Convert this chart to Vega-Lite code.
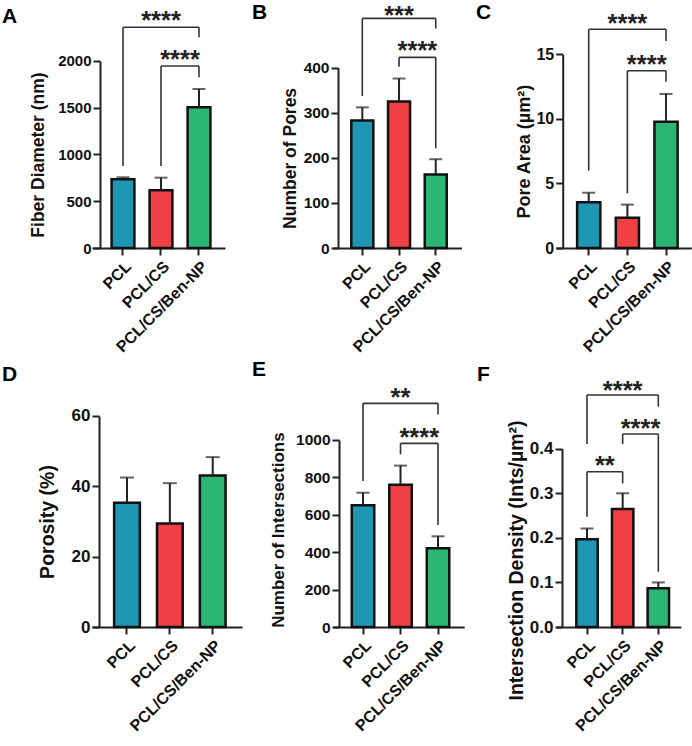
{
  "$schema": "https://vega.github.io/schema/vega-lite/v6.json",
  "padding": {"left": 2, "top": 0, "right": 0, "bottom": 0},
  "background": "white",
  "config": {
    "font": "Liberation Sans",
    "view": {"stroke": null},
    "axis": {"grid": false, "domainColor": "#222", "domainWidth": 2, "tickColor": "#222", "tickWidth": 2, "tickSize": 7, "labelColor": "#111", "labelFontWeight": "bold", "labelFont": "Liberation Sans", "titleFont": "Liberation Sans", "titleFontWeight": "bold", "titleColor": "#111", "labelPadding": 2},
    "axisX": {"labelAngle": -45, "labelFontSize": 16, "labelPadding": 3},
    "axisY": {"titleBaseline": "alphabetic", "titleAngle": -90},
    "title": {"anchor": "start", "frame": "group", "offset": 0, "fontSize": 21, "fontWeight": "bold", "baseline": "alphabetic", "color": "#000", "font": "Liberation Sans"},
    "text": {"font": "Liberation Sans", "fontSize": 25.5, "fontWeight": "bold", "baseline": "middle", "align": "center", "color": "#222", "clip": true},
    "rule": {"clip": true}
  },
  "datasets": {
    "bars": [
      {"panel": "A", "group": "PCL", "mean": 735, "upper": 756},
      {"panel": "A", "group": "PCL/CS", "mean": 617, "upper": 752},
      {"panel": "A", "group": "PCL/CS/Ben-NP", "mean": 1505, "upper": 1700},
      {"panel": "B", "group": "PCL", "mean": 283, "upper": 312},
      {"panel": "B", "group": "PCL/CS", "mean": 325, "upper": 376},
      {"panel": "B", "group": "PCL/CS/Ben-NP", "mean": 163, "upper": 197},
      {"panel": "C", "group": "PCL", "mean": 3.54, "upper": 4.28},
      {"panel": "C", "group": "PCL/CS", "mean": 2.35, "upper": 3.36},
      {"panel": "C", "group": "PCL/CS/Ben-NP", "mean": 9.78, "upper": 11.93},
      {"panel": "D", "group": "PCL", "mean": 35.3, "upper": 42.5},
      {"panel": "D", "group": "PCL/CS", "mean": 29.4, "upper": 40.9},
      {"panel": "D", "group": "PCL/CS/Ben-NP", "mean": 43.1, "upper": 48.3},
      {"panel": "E", "group": "PCL", "mean": 651, "upper": 718},
      {"panel": "E", "group": "PCL/CS", "mean": 761, "upper": 863},
      {"panel": "E", "group": "PCL/CS/Ben-NP", "mean": 421, "upper": 485},
      {"panel": "F", "group": "PCL", "mean": 0.197, "upper": 0.221},
      {"panel": "F", "group": "PCL/CS", "mean": 0.265, "upper": 0.300},
      {"panel": "F", "group": "PCL/CS/Ben-NP", "mean": 0.087, "upper": 0.100}
    ],
    "brackets": [
      {"panel": "A", "g1": "PCL", "g2": "PCL/CS/Ben-NP", "h": 2360, "l1": 877, "l2": 2253, "label": "****", "ly": 2429, "span": 2},
      {"panel": "A", "g1": "PCL/CS", "g2": "PCL/CS/Ben-NP", "h": 1947, "l1": 877, "l2": 1826, "label": "****", "ly": 2008, "span": 1},
      {"panel": "B", "g1": "PCL", "g2": "PCL/CS/Ben-NP", "h": 509.5, "l1": 337, "l2": 487, "label": "***", "ly": 514.8, "span": 2},
      {"panel": "B", "g1": "PCL/CS", "g2": "PCL/CS/Ben-NP", "h": 423, "l1": 402, "l2": 221, "label": "****", "ly": 437, "span": 1},
      {"panel": "C", "g1": "PCL", "g2": "PCL/CS/Ben-NP", "h": 16.94, "l1": 5.99, "l2": 16.03, "label": "****", "ly": 17.38, "span": 2},
      {"panel": "C", "g1": "PCL/CS", "g2": "PCL/CS/Ben-NP", "h": 13.73, "l1": 4.24, "l2": 12.88, "label": "****", "ly": 14.2, "span": 1},
      {"panel": "E", "g1": "PCL", "g2": "PCL/CS/Ben-NP", "h": 1196, "l1": 781, "l2": 1137, "label": "**", "ly": 1225, "span": 2},
      {"panel": "E", "g1": "PCL/CS", "g2": "PCL/CS/Ben-NP", "h": 982, "l1": 923, "l2": 545, "label": "****", "ly": 1011, "span": 1},
      {"panel": "F", "g1": "PCL", "g2": "PCL/CS/Ben-NP", "h": 0.5205, "l1": 0.4105, "l2": 0.4943, "label": "****", "ly": 0.5297, "span": 2},
      {"panel": "F", "g1": "PCL/CS", "g2": "PCL/CS/Ben-NP", "h": 0.433, "l1": 0.4105, "l2": 0.124, "label": "****", "ly": 0.4451, "span": 1},
      {"panel": "F", "g1": "PCL", "g2": "PCL/CS", "h": 0.3484, "l1": 0.2475, "l2": 0.3224, "label": "**", "ly": 0.3607, "span": 1}
    ]
  },
  "columns": 3,
  "align": "each",
  "bounds": "flush",
  "spacing": {"row": 112, "column": 91},
  "concat": [
    {
      "width": 133, "height": 248,
      "title": {"text": "A", "dx": -90, "dy": 31},
      "layer": [
        {"data": {"name": "bars"}, "transform": [{"filter": "datum.panel === 'A'"}],
         "mark": {"type": "bar", "stroke": "#111", "strokeWidth": 2.5},
         "encoding": {
           "x": {"field": "group", "type": "nominal", "title": null, "scale": {"domain": ["PCL", "PCL/CS", "PCL/CS/Ben-NP"], "paddingInner": 0.4, "paddingOuter": 0.45, "align": 0.573}},
           "y": {"field": "mean", "type": "quantitative", "scale": {"domain": [0, 2652], "nice": false}, "axis": {"title": "Fiber Diameter (nm)", "format": "d", "values": [0, 500, 1000, 1500, 2000], "domainDash": [187, 3000], "offset": -8, "labelFontSize": 15, "titleFontSize": 17.5, "titleX": -56.6, "titleY": 154.5}},
           "color": {"field": "group", "type": "nominal", "scale": {"domain": ["PCL", "PCL/CS", "PCL/CS/Ben-NP"], "range": ["#1E97B3", "#EE4045", "#2CB673"]}, "legend": null}
         }},
        {"data": {"name": "bars"}, "transform": [{"filter": "datum.panel === 'A'"}],
         "mark": {"type": "rule", "color": "#222", "strokeWidth": 2},
         "encoding": {"x": {"field": "group", "type": "nominal", "title": null, "scale": {"domain": ["PCL", "PCL/CS", "PCL/CS/Ben-NP"], "paddingInner": 0.4, "paddingOuter": 0.45, "align": 0.573}},
           "y": {"field": "mean", "type": "quantitative", "scale": {"domain": [0, 2652], "nice": false}}, "y2": {"field": "upper"}}},
        {"data": {"name": "bars"}, "transform": [{"filter": "datum.panel === 'A'"}],
         "mark": {"type": "tick", "color": "#222", "thickness": 2, "size": 13},
         "encoding": {"x": {"field": "group", "type": "nominal", "title": null, "scale": {"domain": ["PCL", "PCL/CS", "PCL/CS/Ben-NP"], "paddingInner": 0.4, "paddingOuter": 0.45, "align": 0.573}},
           "y": {"field": "upper", "type": "quantitative", "scale": {"domain": [0, 2652], "nice": false}}}},
        {"data": {"name": "brackets"}, "transform": [{"filter": "datum.panel === 'A'"}],
         "mark": {"type": "rule", "color": "#333", "strokeWidth": 1.6},
         "encoding": {"x": {"field": "g1", "type": "nominal", "title": null, "scale": {"domain": ["PCL", "PCL/CS", "PCL/CS/Ben-NP"], "paddingInner": 0.4, "paddingOuter": 0.45, "align": 0.573}}, "x2": {"field": "g2"},
           "y": {"field": "h", "type": "quantitative", "scale": {"domain": [0, 2652], "nice": false}}}},
        {"data": {"name": "brackets"}, "transform": [{"filter": "datum.panel === 'A'"}],
         "mark": {"type": "rule", "color": "#333", "strokeWidth": 1.6},
         "encoding": {"x": {"field": "g1", "type": "nominal", "title": null, "scale": {"domain": ["PCL", "PCL/CS", "PCL/CS/Ben-NP"], "paddingInner": 0.4, "paddingOuter": 0.45, "align": 0.573}},
           "y": {"field": "l1", "type": "quantitative", "scale": {"domain": [0, 2652], "nice": false}}, "y2": {"field": "h"}}},
        {"data": {"name": "brackets"}, "transform": [{"filter": "datum.panel === 'A'"}],
         "mark": {"type": "rule", "color": "#333", "strokeWidth": 1.6},
         "encoding": {"x": {"field": "g2", "type": "nominal", "title": null, "scale": {"domain": ["PCL", "PCL/CS", "PCL/CS/Ben-NP"], "paddingInner": 0.4, "paddingOuter": 0.45, "align": 0.573}},
           "y": {"field": "l2", "type": "quantitative", "scale": {"domain": [0, 2652], "nice": false}}, "y2": {"field": "h"}}},
        {"data": {"name": "brackets"}, "transform": [{"filter": "datum.panel === 'A' && datum.span === 2"}],
         "mark": {"type": "text"},
         "encoding": {"x": {"field": "g2", "type": "nominal", "title": null, "bandPosition": -1.16667, "scale": {"domain": ["PCL", "PCL/CS", "PCL/CS/Ben-NP"], "paddingInner": 0.4, "paddingOuter": 0.45, "align": 0.573}},
           "y": {"field": "ly", "type": "quantitative", "scale": {"domain": [0, 2652], "nice": false}}, "text": {"field": "label"}}},
        {"data": {"name": "brackets"}, "transform": [{"filter": "datum.panel === 'A' && datum.span === 1"}],
         "mark": {"type": "text"},
         "encoding": {"x": {"field": "g2", "type": "nominal", "title": null, "bandPosition": -0.33333, "scale": {"domain": ["PCL", "PCL/CS", "PCL/CS/Ben-NP"], "paddingInner": 0.4, "paddingOuter": 0.45, "align": 0.573}},
           "y": {"field": "ly", "type": "quantitative", "scale": {"domain": [0, 2652], "nice": false}}, "text": {"field": "label"}}}
      ]
    },
    {
      "width": 128.5, "height": 248,
      "title": {"text": "B", "dx": -81, "dy": 27},
      "layer": [
        {"data": {"name": "bars"}, "transform": [{"filter": "datum.panel === 'B'"}],
         "mark": {"type": "bar", "stroke": "#111", "strokeWidth": 2.5},
         "encoding": {
           "x": {"field": "group", "type": "nominal", "title": null, "scale": {"domain": ["PCL", "PCL/CS", "PCL/CS/Ben-NP"], "paddingInner": 0.4, "paddingOuter": 0.45, "align": 0.554}},
           "y": {"field": "mean", "type": "quantitative", "scale": {"domain": [0, 550.2], "nice": false}, "axis": {"title": "Number of Pores", "values": [0, 100, 200, 300, 400], "domainDash": [180.3, 3000], "offset": -5, "labelFontSize": 15.5, "titleFontSize": 17.5, "titleX": -43, "titleY": 157.9}},
           "color": {"field": "group", "type": "nominal", "scale": {"domain": ["PCL", "PCL/CS", "PCL/CS/Ben-NP"], "range": ["#1E97B3", "#EE4045", "#2CB673"]}, "legend": null}
         }},
        {"data": {"name": "bars"}, "transform": [{"filter": "datum.panel === 'B'"}],
         "mark": {"type": "rule", "color": "#222", "strokeWidth": 2},
         "encoding": {"x": {"field": "group", "type": "nominal", "title": null, "scale": {"domain": ["PCL", "PCL/CS", "PCL/CS/Ben-NP"], "paddingInner": 0.4, "paddingOuter": 0.45, "align": 0.554}},
           "y": {"field": "mean", "type": "quantitative", "scale": {"domain": [0, 550.2], "nice": false}}, "y2": {"field": "upper"}}},
        {"data": {"name": "bars"}, "transform": [{"filter": "datum.panel === 'B'"}],
         "mark": {"type": "tick", "color": "#222", "thickness": 2, "size": 13},
         "encoding": {"x": {"field": "group", "type": "nominal", "title": null, "scale": {"domain": ["PCL", "PCL/CS", "PCL/CS/Ben-NP"], "paddingInner": 0.4, "paddingOuter": 0.45, "align": 0.554}},
           "y": {"field": "upper", "type": "quantitative", "scale": {"domain": [0, 550.2], "nice": false}}}},
        {"data": {"name": "brackets"}, "transform": [{"filter": "datum.panel === 'B'"}],
         "mark": {"type": "rule", "color": "#333", "strokeWidth": 1.6},
         "encoding": {"x": {"field": "g1", "type": "nominal", "title": null, "scale": {"domain": ["PCL", "PCL/CS", "PCL/CS/Ben-NP"], "paddingInner": 0.4, "paddingOuter": 0.45, "align": 0.554}}, "x2": {"field": "g2"},
           "y": {"field": "h", "type": "quantitative", "scale": {"domain": [0, 550.2], "nice": false}}}},
        {"data": {"name": "brackets"}, "transform": [{"filter": "datum.panel === 'B'"}],
         "mark": {"type": "rule", "color": "#333", "strokeWidth": 1.6},
         "encoding": {"x": {"field": "g1", "type": "nominal", "title": null, "scale": {"domain": ["PCL", "PCL/CS", "PCL/CS/Ben-NP"], "paddingInner": 0.4, "paddingOuter": 0.45, "align": 0.554}},
           "y": {"field": "l1", "type": "quantitative", "scale": {"domain": [0, 550.2], "nice": false}}, "y2": {"field": "h"}}},
        {"data": {"name": "brackets"}, "transform": [{"filter": "datum.panel === 'B'"}],
         "mark": {"type": "rule", "color": "#333", "strokeWidth": 1.6},
         "encoding": {"x": {"field": "g2", "type": "nominal", "title": null, "scale": {"domain": ["PCL", "PCL/CS", "PCL/CS/Ben-NP"], "paddingInner": 0.4, "paddingOuter": 0.45, "align": 0.554}},
           "y": {"field": "l2", "type": "quantitative", "scale": {"domain": [0, 550.2], "nice": false}}, "y2": {"field": "h"}}},
        {"data": {"name": "brackets"}, "transform": [{"filter": "datum.panel === 'B' && datum.span === 2"}],
         "mark": {"type": "text"},
         "encoding": {"x": {"field": "g2", "type": "nominal", "title": null, "bandPosition": -1.16667, "scale": {"domain": ["PCL", "PCL/CS", "PCL/CS/Ben-NP"], "paddingInner": 0.4, "paddingOuter": 0.45, "align": 0.554}},
           "y": {"field": "ly", "type": "quantitative", "scale": {"domain": [0, 550.2], "nice": false}}, "text": {"field": "label"}}},
        {"data": {"name": "brackets"}, "transform": [{"filter": "datum.panel === 'B' && datum.span === 1"}],
         "mark": {"type": "text"},
         "encoding": {"x": {"field": "g2", "type": "nominal", "title": null, "bandPosition": -0.33333, "scale": {"domain": ["PCL", "PCL/CS", "PCL/CS/Ben-NP"], "paddingInner": 0.4, "paddingOuter": 0.45, "align": 0.554}},
           "y": {"field": "ly", "type": "quantitative", "scale": {"domain": [0, 550.2], "nice": false}}, "text": {"field": "label"}}}
      ]
    },
    {
      "width": 135.3, "height": 248,
      "title": {"text": "C", "dx": -80, "dy": 27},
      "layer": [
        {"data": {"name": "bars"}, "transform": [{"filter": "datum.panel === 'C'"}],
         "mark": {"type": "bar", "stroke": "#111", "strokeWidth": 2.5},
         "encoding": {
           "x": {"field": "group", "type": "nominal", "title": null, "scale": {"domain": ["PCL", "PCL/CS", "PCL/CS/Ben-NP"], "paddingInner": 0.4, "paddingOuter": 0.45, "align": 0.607}},
           "y": {"field": "mean", "type": "quantitative", "scale": {"domain": [0, 19.205], "nice": false}, "axis": {"title": "Pore Area (µm²)", "values": [0, 5, 10, 15], "domainDash": [193.7, 3000], "offset": -6.7, "labelFontSize": 16, "titleFontSize": 18, "titleX": -33.3, "titleY": 151.2}},
           "color": {"field": "group", "type": "nominal", "scale": {"domain": ["PCL", "PCL/CS", "PCL/CS/Ben-NP"], "range": ["#1E97B3", "#EE4045", "#2CB673"]}, "legend": null}
         }},
        {"data": {"name": "bars"}, "transform": [{"filter": "datum.panel === 'C'"}],
         "mark": {"type": "rule", "color": "#222", "strokeWidth": 2},
         "encoding": {"x": {"field": "group", "type": "nominal", "title": null, "scale": {"domain": ["PCL", "PCL/CS", "PCL/CS/Ben-NP"], "paddingInner": 0.4, "paddingOuter": 0.45, "align": 0.607}},
           "y": {"field": "mean", "type": "quantitative", "scale": {"domain": [0, 19.205], "nice": false}}, "y2": {"field": "upper"}}},
        {"data": {"name": "bars"}, "transform": [{"filter": "datum.panel === 'C'"}],
         "mark": {"type": "tick", "color": "#222", "thickness": 2, "size": 13},
         "encoding": {"x": {"field": "group", "type": "nominal", "title": null, "scale": {"domain": ["PCL", "PCL/CS", "PCL/CS/Ben-NP"], "paddingInner": 0.4, "paddingOuter": 0.45, "align": 0.607}},
           "y": {"field": "upper", "type": "quantitative", "scale": {"domain": [0, 19.205], "nice": false}}}},
        {"data": {"name": "brackets"}, "transform": [{"filter": "datum.panel === 'C'"}],
         "mark": {"type": "rule", "color": "#333", "strokeWidth": 1.6},
         "encoding": {"x": {"field": "g1", "type": "nominal", "title": null, "scale": {"domain": ["PCL", "PCL/CS", "PCL/CS/Ben-NP"], "paddingInner": 0.4, "paddingOuter": 0.45, "align": 0.607}}, "x2": {"field": "g2"},
           "y": {"field": "h", "type": "quantitative", "scale": {"domain": [0, 19.205], "nice": false}}}},
        {"data": {"name": "brackets"}, "transform": [{"filter": "datum.panel === 'C'"}],
         "mark": {"type": "rule", "color": "#333", "strokeWidth": 1.6},
         "encoding": {"x": {"field": "g1", "type": "nominal", "title": null, "scale": {"domain": ["PCL", "PCL/CS", "PCL/CS/Ben-NP"], "paddingInner": 0.4, "paddingOuter": 0.45, "align": 0.607}},
           "y": {"field": "l1", "type": "quantitative", "scale": {"domain": [0, 19.205], "nice": false}}, "y2": {"field": "h"}}},
        {"data": {"name": "brackets"}, "transform": [{"filter": "datum.panel === 'C'"}],
         "mark": {"type": "rule", "color": "#333", "strokeWidth": 1.6},
         "encoding": {"x": {"field": "g2", "type": "nominal", "title": null, "scale": {"domain": ["PCL", "PCL/CS", "PCL/CS/Ben-NP"], "paddingInner": 0.4, "paddingOuter": 0.45, "align": 0.607}},
           "y": {"field": "l2", "type": "quantitative", "scale": {"domain": [0, 19.205], "nice": false}}, "y2": {"field": "h"}}},
        {"data": {"name": "brackets"}, "transform": [{"filter": "datum.panel === 'C' && datum.span === 2"}],
         "mark": {"type": "text"},
         "encoding": {"x": {"field": "g2", "type": "nominal", "title": null, "bandPosition": -1.16667, "scale": {"domain": ["PCL", "PCL/CS", "PCL/CS/Ben-NP"], "paddingInner": 0.4, "paddingOuter": 0.45, "align": 0.607}},
           "y": {"field": "ly", "type": "quantitative", "scale": {"domain": [0, 19.205], "nice": false}}, "text": {"field": "label"}}},
        {"data": {"name": "brackets"}, "transform": [{"filter": "datum.panel === 'C' && datum.span === 1"}],
         "mark": {"type": "text"},
         "encoding": {"x": {"field": "g2", "type": "nominal", "title": null, "bandPosition": -0.33333, "scale": {"domain": ["PCL", "PCL/CS", "PCL/CS/Ben-NP"], "paddingInner": 0.4, "paddingOuter": 0.45, "align": 0.607}},
           "y": {"field": "ly", "type": "quantitative", "scale": {"domain": [0, 19.205], "nice": false}}, "text": {"field": "label"}}}
      ]
    },
    {
      "width": 150, "height": 267,
      "title": {"text": "D", "dx": -90, "dy": 29},
      "layer": [
        {"data": {"name": "bars"}, "transform": [{"filter": "datum.panel === 'D'"}],
         "mark": {"type": "bar", "stroke": "#111", "strokeWidth": 2.5},
         "encoding": {
           "x": {"field": "group", "type": "nominal", "title": null, "scale": {"domain": ["PCL", "PCL/CS", "PCL/CS/Ben-NP"], "paddingInner": 0.4, "paddingOuter": 0.45, "align": 0.574}},
           "y": {"field": "mean", "type": "quantitative", "scale": {"domain": [0, 75.92], "nice": false}, "axis": {"title": "Porosity (%)", "values": [0, 20, 40, 60], "domainDash": [211, 3000], "offset": -7, "labelFontSize": 17, "titleFontSize": 19.5, "titleX": -45.9, "titleY": 161.5}},
           "color": {"field": "group", "type": "nominal", "scale": {"domain": ["PCL", "PCL/CS", "PCL/CS/Ben-NP"], "range": ["#1E97B3", "#EE4045", "#2CB673"]}, "legend": null}
         }},
        {"data": {"name": "bars"}, "transform": [{"filter": "datum.panel === 'D'"}],
         "mark": {"type": "rule", "color": "#222", "strokeWidth": 2},
         "encoding": {"x": {"field": "group", "type": "nominal", "title": null, "scale": {"domain": ["PCL", "PCL/CS", "PCL/CS/Ben-NP"], "paddingInner": 0.4, "paddingOuter": 0.45, "align": 0.574}},
           "y": {"field": "mean", "type": "quantitative", "scale": {"domain": [0, 75.92], "nice": false}}, "y2": {"field": "upper"}}},
        {"data": {"name": "bars"}, "transform": [{"filter": "datum.panel === 'D'"}],
         "mark": {"type": "tick", "color": "#222", "thickness": 2, "size": 14},
         "encoding": {"x": {"field": "group", "type": "nominal", "title": null, "scale": {"domain": ["PCL", "PCL/CS", "PCL/CS/Ben-NP"], "paddingInner": 0.4, "paddingOuter": 0.45, "align": 0.574}},
           "y": {"field": "upper", "type": "quantitative", "scale": {"domain": [0, 75.92], "nice": false}}}}
      ]
    },
    {
      "width": 131.25, "height": 267,
      "title": {"text": "E", "dx": -81, "dy": 24},
      "layer": [
        {"data": {"name": "bars"}, "transform": [{"filter": "datum.panel === 'E'"}],
         "mark": {"type": "bar", "stroke": "#111", "strokeWidth": 2.5},
         "encoding": {
           "x": {"field": "group", "type": "nominal", "title": null, "scale": {"domain": ["PCL", "PCL/CS", "PCL/CS/Ben-NP"], "paddingInner": 0.4, "paddingOuter": 0.45, "align": 0.556}},
           "y": {"field": "mean", "type": "quantitative", "scale": {"domain": [0, 1427.8], "nice": false}, "axis": {"title": "Number of Intersections", "format": "d", "values": [0, 200, 400, 600, 800, 1000], "domainDash": [187, 3000], "offset": -6, "labelFontSize": 15.5, "titleFontSize": 17, "titleX": -56, "titleY": 169.6}},
           "color": {"field": "group", "type": "nominal", "scale": {"domain": ["PCL", "PCL/CS", "PCL/CS/Ben-NP"], "range": ["#1E97B3", "#EE4045", "#2CB673"]}, "legend": null}
         }},
        {"data": {"name": "bars"}, "transform": [{"filter": "datum.panel === 'E'"}],
         "mark": {"type": "rule", "color": "#222", "strokeWidth": 2},
         "encoding": {"x": {"field": "group", "type": "nominal", "title": null, "scale": {"domain": ["PCL", "PCL/CS", "PCL/CS/Ben-NP"], "paddingInner": 0.4, "paddingOuter": 0.45, "align": 0.556}},
           "y": {"field": "mean", "type": "quantitative", "scale": {"domain": [0, 1427.8], "nice": false}}, "y2": {"field": "upper"}}},
        {"data": {"name": "bars"}, "transform": [{"filter": "datum.panel === 'E'"}],
         "mark": {"type": "tick", "color": "#222", "thickness": 2, "size": 13},
         "encoding": {"x": {"field": "group", "type": "nominal", "title": null, "scale": {"domain": ["PCL", "PCL/CS", "PCL/CS/Ben-NP"], "paddingInner": 0.4, "paddingOuter": 0.45, "align": 0.556}},
           "y": {"field": "upper", "type": "quantitative", "scale": {"domain": [0, 1427.8], "nice": false}}}},
        {"data": {"name": "brackets"}, "transform": [{"filter": "datum.panel === 'E'"}],
         "mark": {"type": "rule", "color": "#333", "strokeWidth": 1.6},
         "encoding": {"x": {"field": "g1", "type": "nominal", "title": null, "scale": {"domain": ["PCL", "PCL/CS", "PCL/CS/Ben-NP"], "paddingInner": 0.4, "paddingOuter": 0.45, "align": 0.556}}, "x2": {"field": "g2"},
           "y": {"field": "h", "type": "quantitative", "scale": {"domain": [0, 1427.8], "nice": false}}}},
        {"data": {"name": "brackets"}, "transform": [{"filter": "datum.panel === 'E'"}],
         "mark": {"type": "rule", "color": "#333", "strokeWidth": 1.6},
         "encoding": {"x": {"field": "g1", "type": "nominal", "title": null, "scale": {"domain": ["PCL", "PCL/CS", "PCL/CS/Ben-NP"], "paddingInner": 0.4, "paddingOuter": 0.45, "align": 0.556}},
           "y": {"field": "l1", "type": "quantitative", "scale": {"domain": [0, 1427.8], "nice": false}}, "y2": {"field": "h"}}},
        {"data": {"name": "brackets"}, "transform": [{"filter": "datum.panel === 'E'"}],
         "mark": {"type": "rule", "color": "#333", "strokeWidth": 1.6},
         "encoding": {"x": {"field": "g2", "type": "nominal", "title": null, "scale": {"domain": ["PCL", "PCL/CS", "PCL/CS/Ben-NP"], "paddingInner": 0.4, "paddingOuter": 0.45, "align": 0.556}},
           "y": {"field": "l2", "type": "quantitative", "scale": {"domain": [0, 1427.8], "nice": false}}, "y2": {"field": "h"}}},
        {"data": {"name": "brackets"}, "transform": [{"filter": "datum.panel === 'E' && datum.span === 2"}],
         "mark": {"type": "text"},
         "encoding": {"x": {"field": "g2", "type": "nominal", "title": null, "bandPosition": -1.16667, "scale": {"domain": ["PCL", "PCL/CS", "PCL/CS/Ben-NP"], "paddingInner": 0.4, "paddingOuter": 0.45, "align": 0.556}},
           "y": {"field": "ly", "type": "quantitative", "scale": {"domain": [0, 1427.8], "nice": false}}, "text": {"field": "label"}}},
        {"data": {"name": "brackets"}, "transform": [{"filter": "datum.panel === 'E' && datum.span === 1"}],
         "mark": {"type": "text"},
         "encoding": {"x": {"field": "g2", "type": "nominal", "title": null, "bandPosition": -0.33333, "scale": {"domain": ["PCL", "PCL/CS", "PCL/CS/Ben-NP"], "paddingInner": 0.4, "paddingOuter": 0.45, "align": 0.556}},
           "y": {"field": "ly", "type": "quantitative", "scale": {"domain": [0, 1427.8], "nice": false}}, "text": {"field": "label"}}}
      ]
    },
    {
      "width": 124.8, "height": 267,
      "title": {"text": "F", "dx": -79, "dy": 29},
      "layer": [
        {"data": {"name": "bars"}, "transform": [{"filter": "datum.panel === 'F'"}],
         "mark": {"type": "bar", "stroke": "#111", "strokeWidth": 2.5},
         "encoding": {
           "x": {"field": "group", "type": "nominal", "title": null, "scale": {"domain": ["PCL", "PCL/CS", "PCL/CS/Ben-NP"], "paddingInner": 0.4, "paddingOuter": 0.45, "align": 0.633}},
           "y": {"field": "mean", "type": "quantitative", "scale": {"domain": [0, 0.599], "nice": false}, "axis": {"title": "Intersection Density (Ints/µm²)", "values": [0, 0.1, 0.2, 0.3, 0.4], "format": ".1f", "domainDash": [178.3, 3000], "offset": -6, "labelFontSize": 17, "titleFontSize": 19.5, "titleX": -39.6, "titleY": 200}},
           "color": {"field": "group", "type": "nominal", "scale": {"domain": ["PCL", "PCL/CS", "PCL/CS/Ben-NP"], "range": ["#1E97B3", "#EE4045", "#2CB673"]}, "legend": null}
         }},
        {"data": {"name": "bars"}, "transform": [{"filter": "datum.panel === 'F'"}],
         "mark": {"type": "rule", "color": "#222", "strokeWidth": 2},
         "encoding": {"x": {"field": "group", "type": "nominal", "title": null, "scale": {"domain": ["PCL", "PCL/CS", "PCL/CS/Ben-NP"], "paddingInner": 0.4, "paddingOuter": 0.45, "align": 0.633}},
           "y": {"field": "mean", "type": "quantitative", "scale": {"domain": [0, 0.599], "nice": false}}, "y2": {"field": "upper"}}},
        {"data": {"name": "bars"}, "transform": [{"filter": "datum.panel === 'F'"}],
         "mark": {"type": "tick", "color": "#222", "thickness": 2, "size": 13},
         "encoding": {"x": {"field": "group", "type": "nominal", "title": null, "scale": {"domain": ["PCL", "PCL/CS", "PCL/CS/Ben-NP"], "paddingInner": 0.4, "paddingOuter": 0.45, "align": 0.633}},
           "y": {"field": "upper", "type": "quantitative", "scale": {"domain": [0, 0.599], "nice": false}}}},
        {"data": {"name": "brackets"}, "transform": [{"filter": "datum.panel === 'F'"}],
         "mark": {"type": "rule", "color": "#333", "strokeWidth": 1.6},
         "encoding": {"x": {"field": "g1", "type": "nominal", "title": null, "scale": {"domain": ["PCL", "PCL/CS", "PCL/CS/Ben-NP"], "paddingInner": 0.4, "paddingOuter": 0.45, "align": 0.633}}, "x2": {"field": "g2"},
           "y": {"field": "h", "type": "quantitative", "scale": {"domain": [0, 0.599], "nice": false}}}},
        {"data": {"name": "brackets"}, "transform": [{"filter": "datum.panel === 'F'"}],
         "mark": {"type": "rule", "color": "#333", "strokeWidth": 1.6},
         "encoding": {"x": {"field": "g1", "type": "nominal", "title": null, "scale": {"domain": ["PCL", "PCL/CS", "PCL/CS/Ben-NP"], "paddingInner": 0.4, "paddingOuter": 0.45, "align": 0.633}},
           "y": {"field": "l1", "type": "quantitative", "scale": {"domain": [0, 0.599], "nice": false}}, "y2": {"field": "h"}}},
        {"data": {"name": "brackets"}, "transform": [{"filter": "datum.panel === 'F'"}],
         "mark": {"type": "rule", "color": "#333", "strokeWidth": 1.6},
         "encoding": {"x": {"field": "g2", "type": "nominal", "title": null, "scale": {"domain": ["PCL", "PCL/CS", "PCL/CS/Ben-NP"], "paddingInner": 0.4, "paddingOuter": 0.45, "align": 0.633}},
           "y": {"field": "l2", "type": "quantitative", "scale": {"domain": [0, 0.599], "nice": false}}, "y2": {"field": "h"}}},
        {"data": {"name": "brackets"}, "transform": [{"filter": "datum.panel === 'F' && datum.span === 2"}],
         "mark": {"type": "text"},
         "encoding": {"x": {"field": "g2", "type": "nominal", "title": null, "bandPosition": -1.16667, "scale": {"domain": ["PCL", "PCL/CS", "PCL/CS/Ben-NP"], "paddingInner": 0.4, "paddingOuter": 0.45, "align": 0.633}},
           "y": {"field": "ly", "type": "quantitative", "scale": {"domain": [0, 0.599], "nice": false}}, "text": {"field": "label"}}},
        {"data": {"name": "brackets"}, "transform": [{"filter": "datum.panel === 'F' && datum.span === 1"}],
         "mark": {"type": "text"},
         "encoding": {"x": {"field": "g2", "type": "nominal", "title": null, "bandPosition": -0.33333, "scale": {"domain": ["PCL", "PCL/CS", "PCL/CS/Ben-NP"], "paddingInner": 0.4, "paddingOuter": 0.45, "align": 0.633}},
           "y": {"field": "ly", "type": "quantitative", "scale": {"domain": [0, 0.599], "nice": false}}, "text": {"field": "label"}}}
      ]
    }
  ]
}
